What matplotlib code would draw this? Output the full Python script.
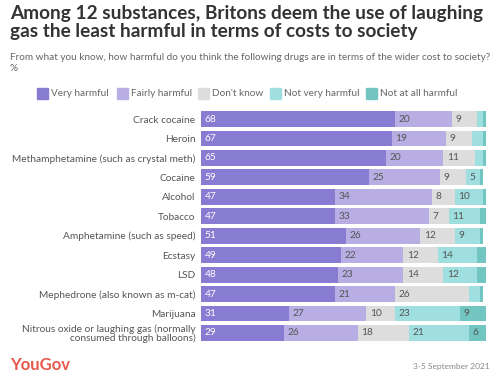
import matplotlib
matplotlib.use("Agg")
import matplotlib.pyplot as plt

categories = ["Crack cocaine", "Heroin", "Methamphetamine (such as crystal meth)", "Cocaine",
              "Alcohol", "Tobacco", "Amphetamine (such as speed)", "Ecstasy", "LSD",
              "Mephedrone (also known as m-cat)", "Marijuana",
              "Nitrous oxide or laughing gas (normally\nconsumed through balloons)"]
series_names = ["Very harmful", "Fairly harmful", "Don't know", "Not very harmful", "Not at all harmful"]
very_harmful = [68, 67, 65, 59, 47, 47, 51, 49, 48, 47, 31, 29]
fairly_harmful = [20, 19, 20, 25, 34, 33, 26, 22, 23, 21, 27, 26]
dont_know = [9, 9, 11, 9, 8, 7, 12, 12, 14, 26, 10, 18]
not_very_harmful = [2, 4, 3, 5, 10, 11, 9, 14, 12, 4, 23, 21]
not_at_all_harmful = [1, 1, 1, 1, 1, 2, 1, 3, 3, 1, 9, 6]
title = "Among 12 substances, Britons deem the use of laughing\ngas the least harmful in terms of costs to society"
subtitle = "From what you know, how harmful do you think the following drugs are in terms of the wider cost to society?\n%"
date_text = "3-5 September 2021"

colors = ["#887bd2", "#b8aee3", "#dddddd", "#a0dfdf", "#72c5c1"]
text_colors = ["white", "#555555", "#555555", "#555555", "#555555"]

plt.rcParams['font.family'] = ['Lato', 'DejaVu Sans']

W, H = 499, 385
fig = plt.figure(figsize=(W / 100, H / 100), dpi=100)

def fx(px):
    return px / W

def fy(py):
    return 1 - py / H

fig.text(fx(10), fy(5), title, fontsize=13.7, fontweight='bold', color='#333333',
         va='top', ha='left', linespacing=1.05)
fig.text(fx(10), fy(53), subtitle, fontsize=7.2, color='#666666', va='top', ha='left',
         linespacing=1.3)

# legend
legend_x = [37, 117, 198, 270, 366]
for name, c, lx in zip(series_names, colors, legend_x):
    fig.patches.append(plt.Rectangle((fx(lx), fy(99)), fx(11), 11 / H, color=c,
                                     transform=fig.transFigure, figure=fig))
    fig.text(fx(lx + 14), fy(93.5), name, fontsize=7.2, color='#666666', va='center', ha='left')

ax = fig.add_axes([fx(201), fy(342.7), fx(486 - 201), (342.7 - 109.3) / H])
series = [very_harmful, fairly_harmful, dont_know, not_very_harmful, not_at_all_harmful]
n = len(categories)
ypos = list(range(n))
lefts = [0] * n
for vals, c, tc in zip(series, colors, text_colors):
    ax.barh(ypos, vals, left=lefts, height=0.82, color=c, linewidth=0)
    for i, (v, l) in enumerate(zip(vals, lefts)):
        if v >= 5:
            ax.text(l + 1.2, i, str(v), fontsize=7.3, color=tc, va='center', ha='left')
    lefts = [a + b for a, b in zip(lefts, vals)]

ax.set_xlim(0, 100)
ax.set_ylim(n - 0.5, -0.5)
ax.set_yticks(ypos)
ax.set_yticklabels(categories, fontsize=7.3, color='#555555', linespacing=0.95)
ax.tick_params(axis='y', length=0, pad=4)
ax.set_xticks([])
for s in ax.spines.values():
    s.set_visible(False)

fig.text(fx(10), fy(365), "YouGov", fontsize=12, fontweight='bold', color='#e8584a',
         va='center', ha='left')
fig.text(fx(490), fy(366), date_text, fontsize=6, color='#888888', va='center', ha='right')

fig.savefig("out.png", dpi=100)
